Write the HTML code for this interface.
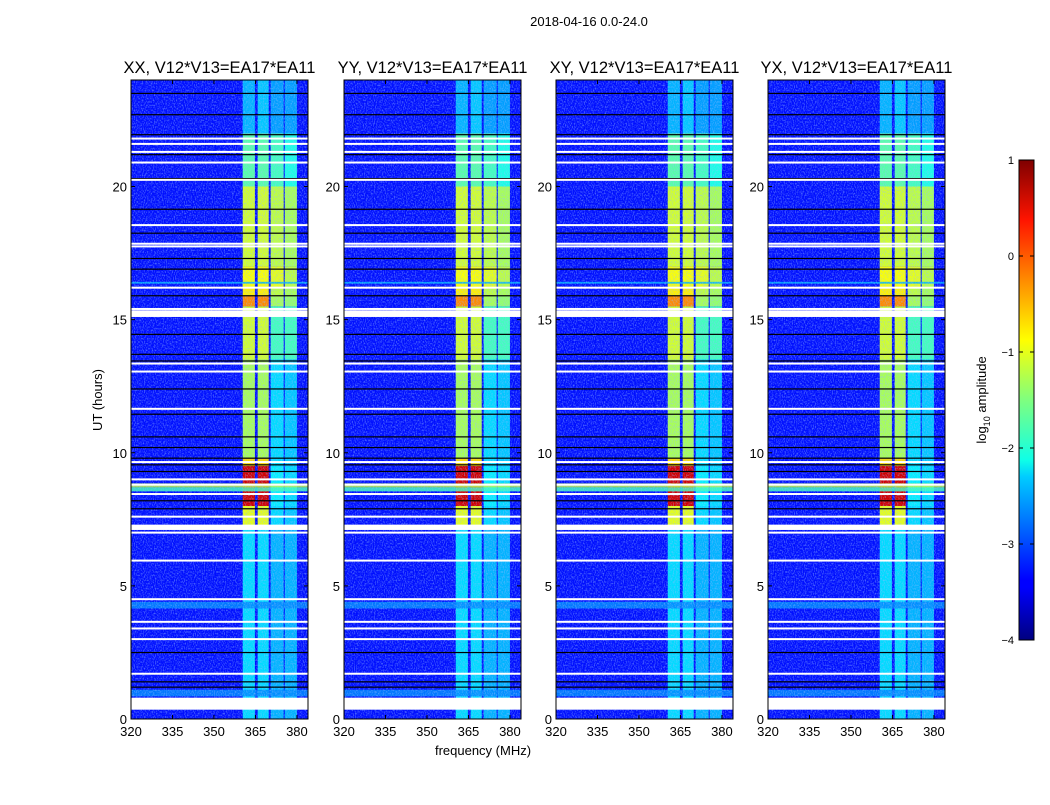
<!DOCTYPE html>
<html><head><meta charset="utf-8"><style>
body{margin:0;background:#fff;font-family:"Liberation Sans",sans-serif;}
svg text{font-family:"Liberation Sans",sans-serif;}
</style></head><body>
<svg id="fig" width="1050" height="800" xmlns="http://www.w3.org/2000/svg">
<defs>
<filter id="noise" x="0" y="0" width="100%" height="100%">
<feTurbulence type="fractalNoise" baseFrequency="0.9 0.6" numOctaves="1" seed="3"/>
<feColorMatrix type="matrix" values="0 0 0 0 0.3  0 0 0 0 0.5  0 0 0 0 1  3 0 0 0 -1.3"/>
</filter>
<linearGradient id="jet" x1="0" y1="1" x2="0" y2="0">
<stop offset="0" stop-color="#00007f"/><stop offset="0.11" stop-color="#0000ff"/>
<stop offset="0.125" stop-color="#0000ff"/><stop offset="0.34" stop-color="#00ccff"/>
<stop offset="0.375" stop-color="#0fffe7"/><stop offset="0.5" stop-color="#7fff7f"/>
<stop offset="0.625" stop-color="#ffff00"/><stop offset="0.66" stop-color="#ffe000"/>
<stop offset="0.875" stop-color="#ff1400"/><stop offset="1" stop-color="#7f0000"/>
</linearGradient>
</defs>
<text x="589" y="26" font-size="13" text-anchor="middle">2018-04-16 0.0-24.0</text>
<g id="panels"></g>
<text transform="translate(102,400) rotate(-90)" font-size="13" text-anchor="middle">UT (hours)</text>
<text x="483" y="755" font-size="13" text-anchor="middle">frequency (MHz)</text>
<g>
<rect x="1019" y="160" width="15" height="480" fill="url(#jet)" stroke="#000" stroke-width="1"/>
<g id="cbticks"></g>
<text transform="translate(986,400) rotate(-90)" font-size="13" text-anchor="middle">log<tspan font-size="9" dy="4">10</tspan><tspan dy="-4"> amplitude</tspan></text>
</g>
</svg>
<script>
const panelNames = ["XX","YY","XY","YX"];
const panelLeft = [131,344,556,768];
const xTicks = [320,335,350,365,380];
const yTicks = [0,5,10,15,20];
const cbTicks = [1,0,-1,-2,-3,-4];
const bgLevel = -3.3;
const bandStart = [360.4,365.8,370.5,375.6];
const bandEnd = [364.8,369.8,375.2,380];
const segStart = [0,7.2,8.0,9.5,9.8,13.5,15.5,15.9,16.2,17.0,20.0,22.0];
const segEnd = [7.2,8.0,9.5,9.8,13.5,15.5,15.9,16.2,17.0,20.0,22.0,24.0];
const segBands = [
 [-2.3,-2.3,-2.5,-2.5],[-1.0,-1.0,-2.3,-2.4],[0.6,0.6,-2.2,-2.3],[-0.7,-0.7,-2.3,-2.4],
 [-1.3,-1.3,-2.3,-2.4],[-1.1,-1.1,-1.8,-1.8],[-0.3,-0.3,-1.3,-1.4],[-0.8,-0.8,-1.2,-1.3],
 [-0.9,-0.9,-1.0,-1.2],[-1.1,-1.1,-1.2,-1.3],[-1.7,-1.7,-1.8,-2.0],[-2.5,-2.4,-2.6,-2.6]];
const stripeStart = [8.55,8.7,4.15,0.85,16.35];
const stripeEnd = [8.7,8.85,4.4,1.1,16.42];
const stripeLevel = [-1.8,-1.2,-2.7,-2.7,-2.5];
const whiteTimes = [21.8,21.6,21.3,20.9,20.25,18.55,17.85,17.75,16.2,15.4,13.35,13.05,11.65,9.65,9.0,8.8,8.45,7.6,7.0,5.95,4.5,3.65,3.4,3.0,1.7];
const whiteBlockStart = [15.1,7.1,0.35];
const whiteBlockEnd = [15.35,7.3,0.8];
const blackTimes = [23.5,22.7,21.95,21.2,20.3,19.15,18.25,17.3,16.9,15.9,14.45,13.7,13.45,12.4,11.45,10.6,10.2,9.8,9.55,9.3,8.2,7.9,2.5,1.4,1.2];
const fMin=320,fMax=384,tMin=0,tMax=24,plotTop=80,plotBottom=719,pw=177;
function jet(v){const x=Math.max(0,Math.min(1,(v+4)/5));
 const r=Math.max(0,Math.min(1,1.5-Math.abs(4*x-3))),g=Math.max(0,Math.min(1,1.5-Math.abs(4*x-2))),b=Math.max(0,Math.min(1,1.5-Math.abs(4*x-1)));
 return `rgb(${Math.round(r*255)},${Math.round(g*255)},${Math.round(b*255)})`;}
const NS="http://www.w3.org/2000/svg";
function mk(tag,attrs,parent){const e=document.createElementNS(NS,tag);for(const k in attrs)e.setAttribute(k,attrs[k]);parent.appendChild(e);return e;}
const yOf=t=>plotBottom-(t-tMin)/(tMax-tMin)*(plotBottom-plotTop);
const panels=document.getElementById('panels');
panelNames.forEach((nm,pi)=>{
 const L=panelLeft[pi];const xOf=f=>L+(f-fMin)/(fMax-fMin)*pw;
 const g=mk('g',{},panels);
 
 
 const t=mk('text',{x:L+pw/2,y:73,'font-size':16.5,'text-anchor':'middle'},g);
 t.textContent=nm+", V12*V13=EA17*EA11";
 
 
 const bg=mk('rect',{x:L,y:plotTop,width:pw,height:plotBottom-plotTop,fill:jet(bgLevel)},g);
 
 
 segStart.forEach((s,si)=>{bandStart.forEach((b,bi)=>{
  const r=mk('rect',{x:xOf(b),y:yOf(segEnd[si]),width:xOf(bandEnd[bi])-xOf(b),height:yOf(s)-yOf(segEnd[si]),fill:jet(segBands[si][bi])},g);
  
  });});
 stripeStart.forEach((s,i)=>{const r=mk('rect',{x:L,y:yOf(stripeEnd[i]),width:pw,height:yOf(s)-yOf(stripeEnd[i]),fill:jet(stripeLevel[i]),opacity:0.85},g);
  
  });
 const n=mk('rect',{x:L,y:plotTop,width:pw,height:plotBottom-plotTop,filter:'url(#noise)',opacity:0.5},g);
 
 
 blackTimes.forEach(tt=>{const r=mk('rect',{x:L,y:yOf(tt)-0.5,width:pw,height:1.2,fill:'#000'},g);
  
  });
 whiteTimes.forEach(tt=>{const r=mk('rect',{x:L,y:yOf(tt)-1,width:pw,height:2,fill:'#fff'},g);
  
  });
 whiteBlockStart.forEach((s,i)=>{const r=mk('rect',{x:L,y:yOf(whiteBlockEnd[i]),width:pw,height:yOf(s)-yOf(whiteBlockEnd[i]),fill:'#fff'},g);
  
  });
 const fr=mk('rect',{x:L,y:plotTop,width:pw,height:plotBottom-plotTop,fill:'none',stroke:'#000','stroke-width':1},g);
 
 
 xTicks.forEach(v=>{const x=xOf(v);
  mk('line',{x1:x,x2:x,y1:plotBottom,y2:plotBottom-4,stroke:'#000'},g);
  mk('line',{x1:x,x2:x,y1:plotTop,y2:plotTop+4,stroke:'#000'},g);
  const tx=mk('text',{x:x,y:plotBottom+17,'font-size':13,'text-anchor':'middle'},g);tx.textContent=v;
  
  });
 yTicks.forEach(v=>{const y=yOf(v);
  mk('line',{x1:L,x2:L+4,y1:y,y2:y,stroke:'#000'},g);
  mk('line',{x1:L+pw,x2:L+pw-4,y1:y,y2:y,stroke:'#000'},g);
  const tx=mk('text',{x:L-4,y:y+5,'font-size':13,'text-anchor':'end'},g);tx.textContent=v;
  
  });
});
const cb=document.getElementById('cbticks');
cbTicks.forEach(v=>{const y=640-(v+4)/5*480;
 mk('line',{x1:1019,x2:1023,y1:y,y2:y,stroke:'#000'},cb);
 mk('line',{x1:1034,x2:1030,y1:y,y2:y,stroke:'#000'},cb);
 const tx=mk('text',{x:1014,y:y+4,'font-size':11,'text-anchor':'end'},cb);tx.textContent=v<0?'\u2212'+(-v):v;
 
 });
</script>
</body></html>
